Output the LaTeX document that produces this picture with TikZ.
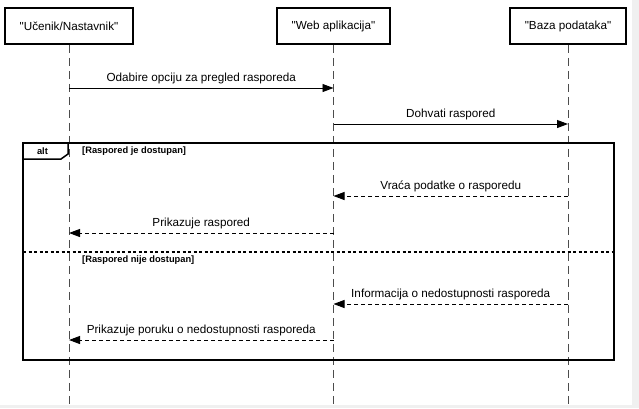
\documentclass[tikz,border=0pt]{standalone}
\usepackage{fontspec}
\setmainfont{Liberation Sans}
\usetikzlibrary{arrows.meta}

\begin{document}
\begin{tikzpicture}[x=1pt,y=-1pt,
	actor/.style={draw,line width=1.6pt,minimum height=36pt,inner sep=0pt,font=\fontsize{11.7}{14}\selectfont},
	life/.style={black!70,line width=1pt,dash pattern=on 8pt off 5pt},
	msg/.style={line width=0.9pt,-{Triangle[length=11pt,width=8pt]}},
	reply/.style={msg,dash pattern=on 4pt off 3pt},
	lbl/.style={midway,above=3.5pt,inner sep=0pt,font=\fontsize{11.7}{14}\selectfont},
	guard/.style={inner sep=0pt,anchor=base west,font=\bfseries\fontsize{9.3}{11}\selectfont}]
	%
	\fill[black!6] (0,0) rectangle (639,408);
	\fill[white] (0,0) rectangle (632,405);
	\useasboundingbox (0,0) rectangle (639,408);
	%
	\node[actor,minimum width=128pt] (uc) at (69,26) {\textquotedbl Učenik/Nastavnik\textquotedbl};
	\node[actor,minimum width=113pt] (web) at (333.5,26) {\textquotedbl Web aplikacija\textquotedbl};
	\node[actor,minimum width=116pt] (db) at (568,26) {\textquotedbl Baza podataka\textquotedbl};
	%
	\coordinate (ucEnd) at (uc |- 0,405);
	\coordinate (webEnd) at (web |- 0,405);
	\coordinate (dbEnd) at (db |- 0,405);
	\draw[life] (uc) -- (ucEnd);
	\draw[life] (web) -- (webEnd);
	\draw[life] (db) -- (dbEnd);
	%
	\coordinate (m1a) at (uc |- 0,88);  \coordinate (m1b) at (web |- 0,88);
	\coordinate (m2a) at (web |- 0,124); \coordinate (m2b) at (db |- 0,124);
	\coordinate (m3a) at (db |- 0,196);  \coordinate (m3b) at (web |- 0,196);
	\coordinate (m4a) at (web |- 0,233); \coordinate (m4b) at (uc |- 0,233);
	\coordinate (m5a) at (db |- 0,304);  \coordinate (m5b) at (web |- 0,304);
	\coordinate (m6a) at (web |- 0,340); \coordinate (m6b) at (uc |- 0,340);
	%
	\draw[msg] (m1a) -- (m1b) node[lbl] (t1) {Odabire opciju za pregled rasporeda};
	\draw[msg] (m2a) -- (m2b) node[lbl] (t2) {Dohvati raspored};
	%
	\draw[line width=1.5pt] (23,143) rectangle (614,360);
	\draw[line width=1.5pt] (23,143) -- (68,143) -- (68,154) -- (61,159) -- (23,159);
	\node[inner sep=0pt,anchor=base,font=\bfseries\fontsize{9.3}{11}\selectfont] (alt) at (42.5,154) {alt};
	\node[guard] (g1) at (82,153.5) {[Raspored je dostupan]};
	\draw[line width=1.5pt,dash pattern=on 3pt off 2.5pt] (23,252) -- (614,252);
	\node[guard] (g2) at (82,262) {[Raspored nije dostupan]};
	%
	\draw[reply] (m3a) -- (m3b) node[lbl] (t3) {Vraća podatke o rasporedu};
	\draw[reply] (m4a) -- (m4b) node[lbl] (t4) {Prikazuje raspored};
	\draw[reply] (m5a) -- (m5b) node[lbl] (t5) {Informacija o nedostupnosti rasporeda};
	\draw[reply] (m6a) -- (m6b) node[lbl] (t6) {Prikazuje poruku o nedostupnosti rasporeda};
	%
\end{tikzpicture}
\end{document}
